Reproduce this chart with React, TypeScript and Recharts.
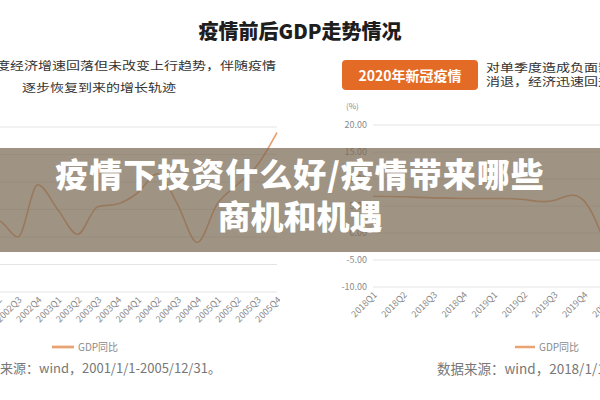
import { LineChart, Line, XAxis, YAxis, CartesianGrid, Legend } from 'recharts';

// 2002Q1 - 2005Q4 (left panel, y axis cropped off the page)
const earlyQuarters = [
  '2002Q1', '2002Q2', '2002Q3', '2002Q4',
  '2003Q1', '2003Q2', '2003Q3', '2003Q4',
  '2004Q1', '2004Q2', '2004Q3', '2004Q4',
  '2005Q1', '2005Q2', '2005Q3', '2005Q4',
];
const earlyGdp = [7.0, 8.6, 8.0, 9.9, 9.0, 8.1, 9.1, 9.2, 9.6, 10.3, 9.2, 7.8, 9.2, 9.9, 10.6, 11.8];
const earlyTicks = [6, 7, 8, 9, 10, 11, 12];

// 2018Q1 - 2020Q1 (right panel, cropped at the page edge)
const lateQuarters = ['2018Q1', '2018Q2', '2018Q3', '2018Q4', '2019Q1', '2019Q2', '2019Q3', '2019Q4', '2020Q1'];
const lateGdp = [6.8, 6.7, 6.5, 6.4, 6.4, 6.2, 6.0, 6.0, -6.8];
const lateTicks = [-10, -5, 0, 5, 10, 15, 20];

const SERIES = 'GDP同比';
const LINE_COLOR = '#e9a272';
const GRID = '#e4e4e4';
const FONT = '"Noto Sans CJK SC", "Noto Sans", sans-serif';

const earlyData = earlyQuarters.map((q, i) => ({ q, [SERIES]: earlyGdp[i] }));
const lateData = lateQuarters.map((q, i) => ({ q, [SERIES]: lateGdp[i] }));

const tickStyle = { fontSize: 9, fill: '#8a8a8a', fontFamily: FONT };

const legendText = (value: string) => (
  <span style={{ color: '#8a8a8a', fontSize: 10, fontFamily: FONT }}>{value}</span>
);

// the screenshot is a bit squashed vertically, so note text is flattened
const noteStyle = {
  position: 'absolute' as const, fontSize: 14, color: '#333', whiteSpace: 'nowrap' as const,
  transform: 'scaleY(0.82)', transformOrigin: 'top left',
};

export default function App() {
  return (
    <div
      style={{
        position: 'absolute', left: 0, top: 0, width: 600, height: 400,
        overflow: 'hidden', background: '#fff', fontFamily: FONT,
      }}
    >
      <div style={{ position: 'absolute', top: 16, left: 0, width: 600, textAlign: 'center', fontSize: 20, fontWeight: 900, color: '#1e1e1e' }}>
        疫情前后GDP走势情况
      </div>

      {/* left notes */}
      <div style={{ ...noteStyle, top: 57, left: -4, lineHeight: '20px' }}>
        度经济增速回落但未改变上行趋势，伴随疫情
      </div>
      <div style={{ ...noteStyle, top: 79, left: 22, lineHeight: '20px' }}>
        逐步恢复到来的增长轨迹
      </div>

      {/* right notes */}
      <div
        style={{
          position: 'absolute', top: 60, left: 342, width: 136, height: 30, borderRadius: 4,
          background: '#e46b25', color: '#fff', fontSize: 14, fontWeight: 700,
          display: 'flex', alignItems: 'center', justifyContent: 'center',
        }}
      >
        2020年新冠疫情
      </div>
      <div style={{ ...noteStyle, top: 61, left: 486, lineHeight: '16.5px' }}>
        对单季度造成负面影响
        <br />
        消退，经济迅速回升
      </div>

      <LineChart
        width={302}
        height={250}
        data={earlyData}
        margin={{ top: 10, right: 3, bottom: 0, left: 0 }}
        style={{ position: 'absolute', left: -22, top: 117 }}
      >
        <CartesianGrid vertical={false} stroke={GRID} />
        <XAxis dataKey="q" interval={0} angle={-45} textAnchor="end" tick={tickStyle} tickLine={false} axisLine={false} height={75} tickSize={0} tickMargin={4} />
        <YAxis hide domain={[6, 12]} ticks={earlyTicks} />
        <Legend
          layout="horizontal"
          align="center"
          verticalAlign="middle"
          iconType="plainline"
          iconSize={22}
          formatter={legendText}
          wrapperStyle={{ left: 74, top: 215, width: 'auto' }}
        />
        <Line type="monotone" dataKey={SERIES} stroke={LINE_COLOR} strokeWidth={1.6} dot={false} isAnimationActive={false} />
      </LineChart>

      <LineChart
        width={314}
        height={250}
        data={lateData}
        margin={{ top: 10, right: 0, bottom: 0, left: 0 }}
        style={{ position: 'absolute', left: 300, top: 115 }}
      >
        <CartesianGrid vertical={false} stroke={GRID} />
        <XAxis dataKey="q" interval={0} angle={-45} textAnchor="end" tick={tickStyle} tickLine={false} axisLine={false} height={78} tickSize={0} tickMargin={4} />
        <YAxis
          width={73}
          domain={[-10, 20]}
          ticks={lateTicks}
          tickFormatter={(v: number) => v.toFixed(2)}
          tick={tickStyle}
          tickLine={false}
          axisLine={false}
          tickSize={0}
          tickMargin={6}
        />
        <Legend
          layout="horizontal"
          align="center"
          verticalAlign="middle"
          iconType="plainline"
          iconSize={20}
          formatter={legendText}
          wrapperStyle={{ left: 215, top: 217, width: 'auto' }}
        />
        <Line type="natural" dataKey={SERIES} stroke={LINE_COLOR} strokeWidth={1.6} dot={false} isAnimationActive={false} />
      </LineChart>
      <div style={{ position: 'absolute', top: 100, left: 346, fontSize: 8, color: '#888' }}>(%)</div>

      {/* sources */}
      <div style={{ position: 'absolute', top: 358, left: -26, fontSize: 13, color: '#777', whiteSpace: 'nowrap' }}>
        数据来源：wind，2001/1/1-2005/12/31。
      </div>
      <div style={{ position: 'absolute', top: 358, left: 437, fontSize: 13.5, color: '#777', whiteSpace: 'nowrap' }}>
        数据来源：wind，2018/1/1-2020/12/31。
      </div>

      {/* headline banner */}
      <div
        style={{
          position: 'absolute', left: 0, top: 148, width: 600, height: 104,
          background: 'rgba(122, 106, 84, 0.72)', color: '#fff', fontWeight: 900,
          fontSize: 33, lineHeight: '42px', textAlign: 'center', paddingTop: 4, boxSizing: 'border-box',
        }}
      >
        <div style={{ letterSpacing: 1 }}>疫情下投资什么好/疫情带来哪些</div>
        <div>商机和机遇</div>
      </div>
    </div>
  );
}
